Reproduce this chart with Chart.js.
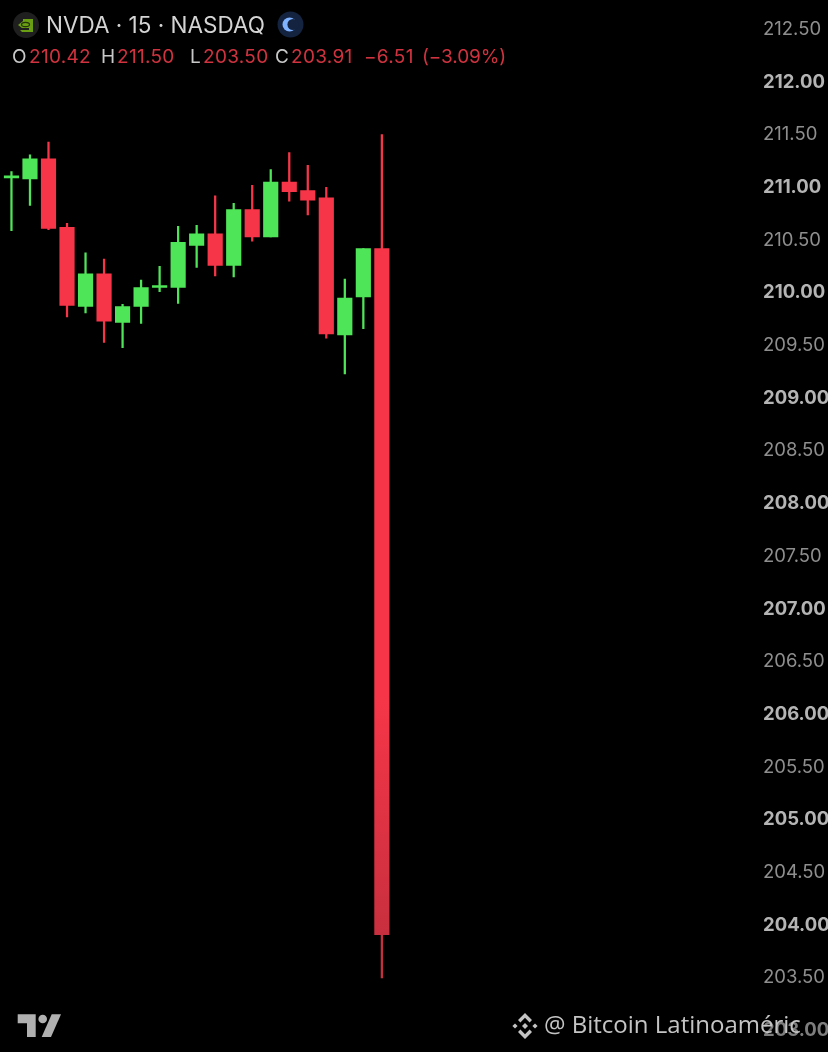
<!DOCTYPE html>
<html>
<head>
<meta charset="utf-8">
<title>NVDA 15</title>
<script src="https://cdn.jsdelivr.net/npm/chart.js@4"></script>
<style>
  html, body { margin: 0; background: #000; }
  #wrap { position: relative; width: 828px; height: 1052px; overflow: hidden; background: #000; }
  #chart { position: absolute; left: 0; top: 0; }
  .t { position: absolute; white-space: nowrap; font-family: Inter, sans-serif; line-height: 1; }
  .title { font-size: 22.5px; color: #d4d4d4; }
  .ohlc { font-size: 19px; top: 47px; color: #d0333f; letter-spacing: 0.3px; }
  .ohlc.k { color: #c8c8c8; }
  .mark { position: absolute; }
  #wm { left: 544px; top: 1012px; font-family: "Open Sans", sans-serif; font-size: 24px; color: #c4c4c4; }
</style>
</head>
<body>
<div id="wrap">
  <canvas id="chart" width="828" height="1052"></canvas>

  <svg class="mark" style="left:12px;top:11px" width="28" height="28" viewBox="0 0 28 28">
    <circle cx="14" cy="14" r="13" fill="#1f1f1f"/>
    <path d="M11 8h10v13h-11l-2-2h9v-2h-7l-4-3 5-4z" fill="#6a9e13"/>
    <ellipse cx="13.5" cy="13.5" rx="4" ry="2.2" fill="none" stroke="#24330a" stroke-width="1.2"/>
  </svg>
  <div class="t title" style="left:46px;top:14px">NVDA · 15 · NASDAQ</div>
  <svg class="mark" style="left:277px;top:11px" width="27" height="27" viewBox="0 0 27 27">
    <circle cx="13.5" cy="13.5" r="13" fill="#14233f"/>
    <circle cx="12.5" cy="13.5" r="7" fill="#7fb2ff"/>
    <circle cx="16" cy="13.5" r="5.6" fill="#14233f"/>
  </svg>

  <div class="t ohlc k" style="left:12px">O</div>
  <div class="t ohlc" style="left:29px">210.42</div>
  <div class="t ohlc k" style="left:101px">H</div>
  <div class="t ohlc" style="left:117px">211.50</div>
  <div class="t ohlc k" style="left:190px">L</div>
  <div class="t ohlc" style="left:203px">203.50</div>
  <div class="t ohlc k" style="left:275px">C</div>
  <div class="t ohlc" style="left:291px">203.91</div>
  <div class="t ohlc" style="left:364px">−6.51</div>
  <div class="t ohlc" style="left:422px;letter-spacing:-0.1px">(−3.09%)</div>

  <svg class="mark" style="left:0;top:1005px" width="70" height="40" viewBox="0 1005 70 40" fill="#b0b0b0">
    <path d="M17.7 1014.3H35.7V1037H27V1023.3H17.7z"/>
    <circle cx="42.7" cy="1019" r="4.3"/>
    <path d="M51.7 1014.3H61L51 1037H41.7z"/>
  </svg>

  <svg class="mark" style="left:511px;top:1012px" width="28" height="28" viewBox="0 0 28 28" fill="#c4c4c4">
    <path d="M14 1l7 7-2.4 2.4L14 5.8l-4.6 4.6L7 8z"/>
    <path d="M14 27l-7-7 2.4-2.4 4.6 4.6 4.6-4.6L21 20z"/>
    <path d="M14 11l3 3-3 3-3-3z"/>
    <path d="M4 11.4l2.6 2.6L4 16.6 1.4 14z"/>
    <path d="M24 11.4l2.6 2.6-2.6 2.6-2.6-2.6z"/>
  </svg>
  <div class="t" id="wm">@ Bitcoin Latinoaméric</div>
</div>

<script>
const categories = ['1','2','3','4','5','6','7','8','9','10','11','12','13','14','15','16','17','18','19','20','21'];
const opens  = [211.09,211.08,211.27,210.62,209.87,210.18,209.72,209.87,210.05,210.05,210.45,210.56,210.26,210.79,210.53,211.05,210.97,210.90,209.60,209.96,210.42];
const highs  = [211.15,211.31,211.43,210.66,210.38,210.32,209.89,210.12,210.25,210.63,210.64,210.92,210.85,211.02,211.17,211.33,211.21,211.00,210.13,210.42,211.50];
const lows   = [210.59,210.83,210.60,209.77,209.81,209.53,209.48,209.71,210.01,209.90,210.24,210.16,210.15,210.49,210.53,210.87,210.74,209.57,209.23,209.66,203.50];
const closes = [211.10,211.27,210.61,209.88,210.18,209.73,209.87,210.05,210.06,210.48,210.56,210.26,210.79,210.53,211.05,210.96,210.88,209.61,209.95,210.42,203.91];
const tickValues = [212.5,212,211.5,211,210.5,210,209.5,209,208.5,208,207.5,207,206.5,206,205.5,205,204.5,204,203.5,203];

const emptySlots = 19; // room on the right of the last candle
const GREEN = '#4fe558';
const RED = '#f63648';

const labels = categories.concat(Array(emptySlots).fill(''));
const bodies = opens.map((o, i) => [o, closes[i]]);
const wicks = highs.map((h, i) => [lows[i], h]);

// the picture fades a little towards the bottom
function candleColor(c) {
  if (closes[c.dataIndex] >= opens[c.dataIndex]) return GREEN;
  const g = c.chart.ctx.createLinearGradient(0, 0, 0, 1052);
  g.addColorStop(0, RED);
  g.addColorStop(0.66, RED);
  g.addColorStop(0.9, '#c62f3e');
  return g;
}

const isWhole = c => !!c.tick && Number.isInteger(c.tick.value);

function tickColor(c) {
  if (c.tick && c.tick.value === 203) return '#7d7d7d'; // sits under the watermark
  return isWhole(c) ? '#b4b4b4' : '#8e8e8e';
}

new Chart(document.getElementById('chart').getContext('2d'), {
  type: 'bar',
  data: {
    labels: labels,
    datasets: [
      { data: bodies, backgroundColor: candleColor, barThickness: 14.5, minBarLength: 2, grouped: false, borderWidth: 0 },
      { data: wicks, backgroundColor: candleColor, barThickness: 1.6, grouped: false, borderWidth: 0 },
    ],
  },
  options: {
    responsive: false,
    animation: false,
    layout: { padding: { left: 2.2, right: 0, top: 0, bottom: 0 } },
    plugins: { legend: { display: false }, tooltip: { enabled: false } },
    scales: {
      x: { display: false, grid: { display: false } },
      y: {
        position: 'right',
        min: 202.797,
        max: 212.778,
        border: { display: false },
        grid: { display: false, drawTicks: false },
        afterFit: s => { s.width = 85; s.paddingTop = 0; s.paddingBottom = 0; },
        afterBuildTicks: s => { s.ticks = tickValues.map(v => ({ value: v })); },
        ticks: {
          padding: 20,
          autoSkip: false,
          callback: v => v.toFixed(2),
          color: tickColor,
          font: c => ({
            family: 'Inter, sans-serif',
            size: 18.5,
            weight: isWhole(c) ? 'bold' : 'normal',
          }),
        },
      },
    },
  },
});
</script>
</body>
</html>
